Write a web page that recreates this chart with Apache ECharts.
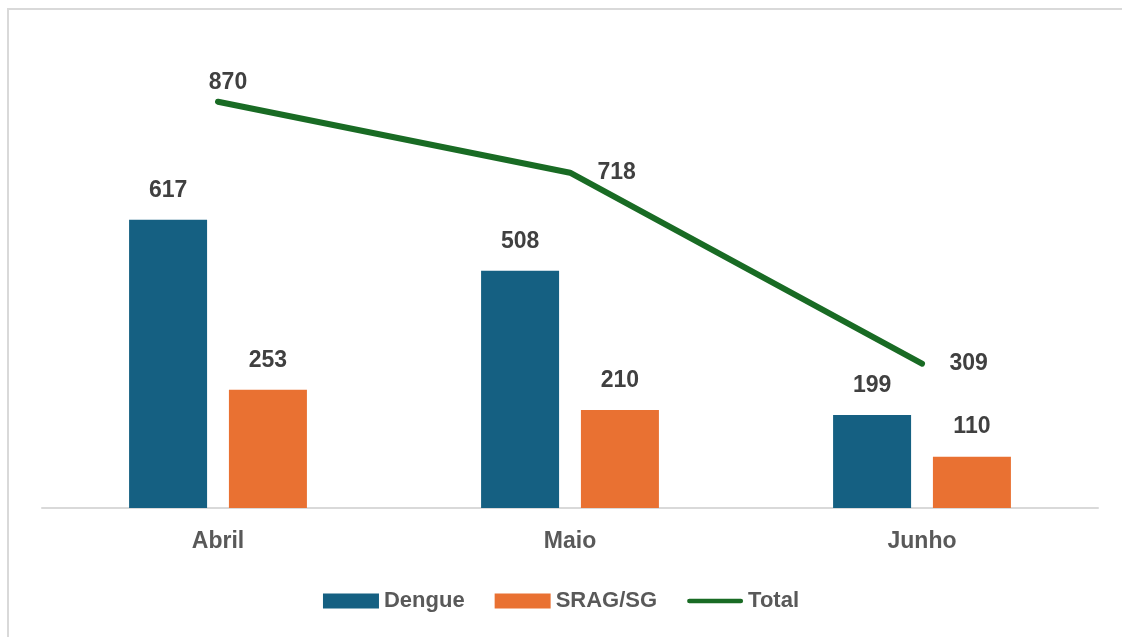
<!DOCTYPE html>
<html>
<head>
<meta charset="utf-8">
<script src="https://cdn.jsdelivr.net/npm/echarts@6/dist/echarts.min.js"></script>
<style>
html,body{margin:0;padding:0;background:#fff;}
#chart{width:1122px;height:637px;}
</style>
</head>
<body>
<div id="chart"></div>
<script>
var categories = ['Abril', 'Maio', 'Junho'];
var dengue = [617, 508, 199];
var srag = [253, 210, 110];
var total = [870, 718, 309];
var seriesNames = ['Dengue', 'SRAG/SG', 'Total'];

var FONT = '"Liberation Sans", Arial, sans-serif';
var chart = echarts.init(document.getElementById('chart'), null, {renderer: 'canvas'});

var totalLabelPos = [
  {position: 'top', distance: 7, offset: [10, 0]},
  {position: 'right', distance: 27},
  {position: 'right', distance: 27}
];

chart.setOption({
  animation: false,
  backgroundColor: '#ffffff',
  graphic: [{
    type: 'rect', silent: true,
    shape: {x: 8, y: 9, width: 1300, height: 800},
    style: {fill: 'none', stroke: '#d9d9d9', lineWidth: 2}
  }],
  grid: {left: 42, right: 24, top: 41, bottom: 129, containLabel: false},
  legend: {
    bottom: 20,
    left: 'center',
    itemWidth: 56,
    itemHeight: 15,
    itemGap: 30,
    textStyle: {fontFamily: FONT, fontSize: 22, fontWeight: 'bold', color: '#595959'},
    data: [
      {name: seriesNames[0], icon: 'rect'},
      {name: seriesNames[1], icon: 'rect'},
      {name: seriesNames[2], icon: 'path://M2.5,0 H59.5 A2.5,2.5 0 0 1 59.5,5 H2.5 A2.5,2.5 0 0 1 2.5,0 Z', itemStyle: {color: '#196B24'}}
    ]
  },
  xAxis: {
    type: 'category',
    data: categories,
    axisLine: {lineStyle: {color: '#d9d9d9', width: 2}},
    axisTick: {show: false},
    axisLabel: {fontFamily: FONT, fontSize: 23, fontWeight: 'bold', color: '#595959', margin: 22}
  },
  yAxis: {
    type: 'value', min: 0, max: 1000,
    show: false,
    splitLine: {show: false}
  },
  series: [
    {
      name: seriesNames[0], type: 'bar', data: dengue,
      barWidth: 78, barGap: '28%',
      itemStyle: {color: '#156082'},
      label: {show: true, position: 'top', distance: 18, fontFamily: FONT, fontSize: 23, fontWeight: 'bold', color: '#404040'}
    },
    {
      name: seriesNames[1], type: 'bar', data: srag,
      barWidth: 78, barGap: '28%',
      itemStyle: {color: '#E97132'},
      label: {show: true, position: 'top', distance: 18, fontFamily: FONT, fontSize: 23, fontWeight: 'bold', color: '#404040'}
    },
    {
      name: seriesNames[2], type: 'line',
      data: total.map(function (v, i) { return {value: v, label: totalLabelPos[i]}; }),
      symbol: 'circle', symbolSize: 1, showSymbol: true,
      itemStyle: {color: '#196B24'},
      lineStyle: {color: '#196B24', width: 6, cap: 'round', join: 'round'},
      label: {show: true, fontFamily: FONT, fontSize: 23, fontWeight: 'bold', color: '#404040'},
      z: 5
    }
  ]
});
</script>
</body>
</html>
